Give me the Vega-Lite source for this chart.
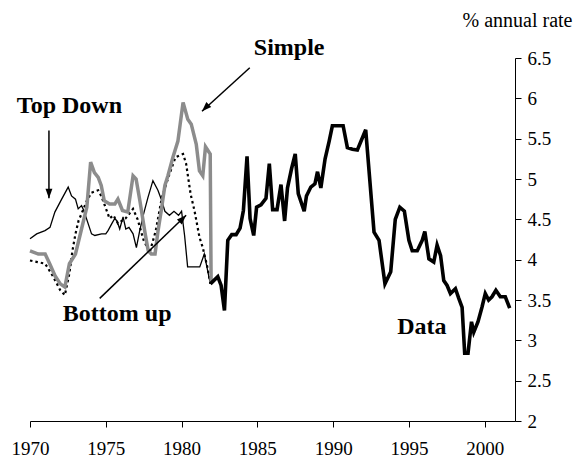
{
  "$schema": "https://vega.github.io/schema/vega-lite/v6.json",
  "autosize": "none",
  "width": 485,
  "height": 363,
  "padding": {"left": 30, "top": 58, "right": 59, "bottom": 43},
  "background": "white",
  "config": {
    "view": {"stroke": null},
    "font": "Liberation Serif",
    "axis": {"labelFont": "Liberation Serif", "titleFont": "Liberation Serif", "labelColor": "black", "titleColor": "black", "domainColor": "black", "tickColor": "black", "grid": false, "labelFontSize": 19, "tickSize": 6, "domainWidth": 1, "tickWidth": 1}
  },
  "datasets": {
    "data": [
      {"year": 1981.9, "v": 3.70}, {"year": 1982.39, "v": 3.79}, {"year": 1982.61, "v": 3.68}, {"year": 1982.83, "v": 3.37},
      {"year": 1983.05, "v": 4.24}, {"year": 1983.31, "v": 4.31}, {"year": 1983.6, "v": 4.31}, {"year": 1983.86, "v": 4.39},
      {"year": 1984.08, "v": 4.61}, {"year": 1984.32, "v": 5.28}, {"year": 1984.52, "v": 4.51}, {"year": 1984.76, "v": 4.30},
      {"year": 1984.95, "v": 4.65}, {"year": 1985.24, "v": 4.68}, {"year": 1985.57, "v": 4.76}, {"year": 1985.79, "v": 5.19},
      {"year": 1986.01, "v": 4.62}, {"year": 1986.3, "v": 4.62}, {"year": 1986.56, "v": 4.93}, {"year": 1986.8, "v": 4.48},
      {"year": 1986.99, "v": 4.89}, {"year": 1987.26, "v": 5.13}, {"year": 1987.5, "v": 5.31}, {"year": 1987.7, "v": 4.82},
      {"year": 1988.09, "v": 4.60}, {"year": 1988.24, "v": 4.79}, {"year": 1988.53, "v": 4.90}, {"year": 1988.8, "v": 4.94},
      {"year": 1988.97, "v": 5.09}, {"year": 1989.19, "v": 4.89}, {"year": 1989.47, "v": 5.25}, {"year": 1989.74, "v": 5.47},
      {"year": 1989.95, "v": 5.66}, {"year": 1990.66, "v": 5.66}, {"year": 1990.94, "v": 5.39}, {"year": 1991.27, "v": 5.37},
      {"year": 1991.6, "v": 5.36}, {"year": 1992.15, "v": 5.61}, {"year": 1992.7, "v": 4.34}, {"year": 1993.03, "v": 4.24},
      {"year": 1993.42, "v": 3.70}, {"year": 1993.8, "v": 3.85}, {"year": 1994.1, "v": 4.5}, {"year": 1994.4, "v": 4.65},
      {"year": 1994.7, "v": 4.6}, {"year": 1995.0, "v": 4.24}, {"year": 1995.22, "v": 4.11}, {"year": 1995.55, "v": 4.11},
      {"year": 1995.88, "v": 4.24}, {"year": 1996.05, "v": 4.35}, {"year": 1996.32, "v": 4.01}, {"year": 1996.64, "v": 3.97},
      {"year": 1996.86, "v": 4.18}, {"year": 1997.09, "v": 4.05}, {"year": 1997.3, "v": 3.74}, {"year": 1997.52, "v": 3.68},
      {"year": 1997.74, "v": 3.58}, {"year": 1998.07, "v": 3.64}, {"year": 1998.29, "v": 3.52}, {"year": 1998.51, "v": 3.41},
      {"year": 1998.68, "v": 2.84}, {"year": 1998.9, "v": 2.84}, {"year": 1999.13, "v": 3.23}, {"year": 1999.28, "v": 3.10},
      {"year": 1999.56, "v": 3.23}, {"year": 1999.82, "v": 3.41}, {"year": 2000.04, "v": 3.58}, {"year": 2000.26, "v": 3.50},
      {"year": 2000.48, "v": 3.54}, {"year": 2000.74, "v": 3.62}, {"year": 2001.03, "v": 3.54}, {"year": 2001.36, "v": 3.54},
      {"year": 2001.65, "v": 3.40}
    ],
    "topdown": [
      {"year": 1970.0, "v": 4.26}, {"year": 1970.44, "v": 4.32}, {"year": 1970.99, "v": 4.36}, {"year": 1971.32, "v": 4.40},
      {"year": 1971.64, "v": 4.59}, {"year": 1972.09, "v": 4.75}, {"year": 1972.52, "v": 4.90}, {"year": 1972.74, "v": 4.79},
      {"year": 1973.0, "v": 4.75}, {"year": 1973.18, "v": 4.63}, {"year": 1973.4, "v": 4.67}, {"year": 1973.55, "v": 4.61},
      {"year": 1974.06, "v": 4.32}, {"year": 1974.28, "v": 4.30}, {"year": 1974.72, "v": 4.32}, {"year": 1975.0, "v": 4.32},
      {"year": 1975.15, "v": 4.36}, {"year": 1975.38, "v": 4.44}, {"year": 1975.59, "v": 4.51}, {"year": 1975.74, "v": 4.48},
      {"year": 1975.92, "v": 4.38}, {"year": 1976.14, "v": 4.53}, {"year": 1976.32, "v": 4.38}, {"year": 1976.53, "v": 4.40},
      {"year": 1976.8, "v": 4.32}, {"year": 1977.02, "v": 4.15}, {"year": 1977.24, "v": 4.36}, {"year": 1977.5, "v": 4.57},
      {"year": 1977.78, "v": 4.77}, {"year": 1978.11, "v": 4.98}, {"year": 1978.44, "v": 4.86}, {"year": 1978.66, "v": 4.75},
      {"year": 1978.9, "v": 4.6}, {"year": 1979.2, "v": 4.55}, {"year": 1979.5, "v": 4.6}, {"year": 1979.8, "v": 4.55},
      {"year": 1980.0, "v": 4.6}, {"year": 1980.2, "v": 4.3}, {"year": 1980.4, "v": 3.91}, {"year": 1980.8, "v": 3.91},
      {"year": 1981.2, "v": 3.91}, {"year": 1981.5, "v": 4.07}, {"year": 1981.9, "v": 3.70}
    ],
    "simple": [
      {"year": 1970.0, "v": 4.11}, {"year": 1970.55, "v": 4.07}, {"year": 1971.0, "v": 4.07}, {"year": 1971.3, "v": 3.95},
      {"year": 1971.65, "v": 3.80}, {"year": 1972.0, "v": 3.70}, {"year": 1972.3, "v": 3.66}, {"year": 1972.6, "v": 3.95},
      {"year": 1973.0, "v": 4.07}, {"year": 1973.4, "v": 4.38}, {"year": 1973.75, "v": 4.65}, {"year": 1974.0, "v": 5.21},
      {"year": 1974.25, "v": 5.08}, {"year": 1974.5, "v": 5.02}, {"year": 1974.7, "v": 4.92}, {"year": 1974.9, "v": 4.73},
      {"year": 1975.25, "v": 4.69}, {"year": 1975.6, "v": 4.69}, {"year": 1975.8, "v": 4.75}, {"year": 1976.1, "v": 4.61},
      {"year": 1976.45, "v": 4.59}, {"year": 1976.8, "v": 5.04}, {"year": 1977.0, "v": 5.00}, {"year": 1977.25, "v": 4.73},
      {"year": 1977.6, "v": 4.32}, {"year": 1977.8, "v": 4.11}, {"year": 1978.0, "v": 4.07}, {"year": 1978.25, "v": 4.07},
      {"year": 1978.45, "v": 4.36}, {"year": 1978.66, "v": 4.61}, {"year": 1978.9, "v": 4.92}, {"year": 1979.1, "v": 5.04},
      {"year": 1979.43, "v": 5.27}, {"year": 1979.76, "v": 5.47}, {"year": 1980.1, "v": 5.95}, {"year": 1980.41, "v": 5.74},
      {"year": 1980.64, "v": 5.68}, {"year": 1980.97, "v": 5.43}, {"year": 1981.18, "v": 5.10}, {"year": 1981.4, "v": 5.04},
      {"year": 1981.58, "v": 5.40}, {"year": 1981.89, "v": 5.31}, {"year": 1981.95, "v": 3.72}
    ],
    "bottomup": [
      {"year": 1970.0, "v": 3.99}, {"year": 1970.5, "v": 3.97}, {"year": 1971.0, "v": 3.95}, {"year": 1971.5, "v": 3.80},
      {"year": 1972.0, "v": 3.62}, {"year": 1972.3, "v": 3.56}, {"year": 1972.6, "v": 3.83}, {"year": 1972.8, "v": 4.11},
      {"year": 1973.0, "v": 4.32}, {"year": 1973.2, "v": 4.48}, {"year": 1973.4, "v": 4.57}, {"year": 1973.75, "v": 4.73},
      {"year": 1974.05, "v": 4.83}, {"year": 1974.5, "v": 4.86}, {"year": 1974.7, "v": 4.79}, {"year": 1974.9, "v": 4.69},
      {"year": 1975.25, "v": 4.51}, {"year": 1975.5, "v": 4.55}, {"year": 1975.8, "v": 4.45}, {"year": 1976.3, "v": 4.51},
      {"year": 1976.8, "v": 4.63}, {"year": 1977.1, "v": 4.5}, {"year": 1977.5, "v": 4.24}, {"year": 1977.9, "v": 4.09},
      {"year": 1978.3, "v": 4.36}, {"year": 1978.7, "v": 4.77}, {"year": 1979.2, "v": 5.06}, {"year": 1979.6, "v": 5.27},
      {"year": 1980.1, "v": 5.31}, {"year": 1980.3, "v": 5.19}, {"year": 1980.6, "v": 4.81}, {"year": 1980.85, "v": 4.61},
      {"year": 1981.18, "v": 4.28}, {"year": 1981.4, "v": 4.15}, {"year": 1981.7, "v": 3.91}, {"year": 1981.9, "v": 3.70}
    ],
    "labels": [
      {"x": 1972.6, "y": 5.91, "text": "Top Down"},
      {"x": 1987.1, "y": 6.63, "text": "Simple"},
      {"x": 1975.75, "y": 3.33, "text": "Bottom up"},
      {"x": 1995.86, "y": 3.16, "text": "Data"}
    ],
    "arrows": [
      {"name": "Top Down", "x": 1971.25, "y": 5.6, "x2": 1971.25, "y2": 4.76},
      {"name": "Simple", "x": 1984.5, "y": 6.38, "x2": 1981.35, "y2": 5.84},
      {"name": "Bottom up", "x": 1974.6, "y": 3.52, "x2": 1980.3, "y2": 4.55}
    ]
  },
  "layer": [
    {
      "data": {"name": "topdown"},
      "mark": {"type": "line", "color": "black", "strokeWidth": 1.3},
      "encoding": {
        "x": {"field": "year", "type": "quantitative", "scale": {"domain": [1970, 2002], "nice": false, "zero": false},
          "axis": {"title": null, "values": [1970, 1975, 1980, 1985, 1990, 1995, 2000], "format": "d", "labelPadding": 12, "labelFlush": false}},
        "y": {"field": "v", "type": "quantitative", "scale": {"domain": [2, 6.5], "nice": false, "zero": false},
          "axis": {"orient": "right", "values": [2, 2.5, 3, 3.5, 4, 4.5, 5, 5.5, 6, 6.5], "format": ".1~f", "labelPadding": 6, "labelFlush": false,
            "title": "% annual rate", "titleAngle": 0, "titleAlign": "right", "titleBaseline": "middle", "titleX": 57, "titleY": -38, "titleFontSize": 20, "titleFontWeight": "normal"}}
      }
    },
    {
      "data": {"name": "bottomup"},
      "mark": {"type": "line", "color": "black", "strokeWidth": 2.2, "strokeDash": [2.5, 3]},
      "encoding": {"x": {"field": "year", "type": "quantitative"}, "y": {"field": "v", "type": "quantitative"}}
    },
    {
      "data": {"name": "simple"},
      "mark": {"type": "line", "color": "#8c8c8c", "strokeWidth": 3.5},
      "encoding": {"x": {"field": "year", "type": "quantitative"}, "y": {"field": "v", "type": "quantitative"}}
    },
    {
      "data": {"name": "data"},
      "mark": {"type": "line", "color": "black", "strokeWidth": 3.6},
      "encoding": {"x": {"field": "year", "type": "quantitative"}, "y": {"field": "v", "type": "quantitative"}}
    },
    {
      "data": {"name": "arrows"},
      "mark": {"type": "rule", "color": "black", "strokeWidth": 1.5},
      "encoding": {"x": {"field": "x", "type": "quantitative"}, "y": {"field": "y", "type": "quantitative"}, "x2": {"field": "x2"}, "y2": {"field": "y2"}}
    },
    {
      "data": {"name": "arrows"},
      "transform": [{"filter": "datum.name === 'Top Down'"}],
      "mark": {"type": "point", "shape": "M0,0L-0.4,1.1L0.4,1.1Z", "filled": true, "color": "black", "opacity": 1, "size": 300, "angle": 180},
      "encoding": {"x": {"field": "x2", "type": "quantitative"}, "y": {"field": "y2", "type": "quantitative"}}
    },
    {
      "data": {"name": "arrows"},
      "transform": [{"filter": "datum.name === 'Simple'"}],
      "mark": {"type": "point", "shape": "M0,0L-0.4,1.1L0.4,1.1Z", "filled": true, "color": "black", "opacity": 1, "size": 300, "angle": 225},
      "encoding": {"x": {"field": "x2", "type": "quantitative"}, "y": {"field": "y2", "type": "quantitative"}}
    },
    {
      "data": {"name": "arrows"},
      "transform": [{"filter": "datum.name === 'Bottom up'"}],
      "mark": {"type": "point", "shape": "M0,0L-0.4,1.1L0.4,1.1Z", "filled": true, "color": "black", "opacity": 1, "size": 300, "angle": 45},
      "encoding": {"x": {"field": "x2", "type": "quantitative"}, "y": {"field": "y2", "type": "quantitative"}}
    },
    {
      "data": {"name": "labels"},
      "mark": {"type": "text", "font": "Liberation Serif", "fontWeight": "bold", "fontSize": 24, "color": "black", "align": "center", "baseline": "middle"},
      "encoding": {"x": {"field": "x", "type": "quantitative"}, "y": {"field": "y", "type": "quantitative"}, "text": {"field": "text"}}
    }
  ]
}
